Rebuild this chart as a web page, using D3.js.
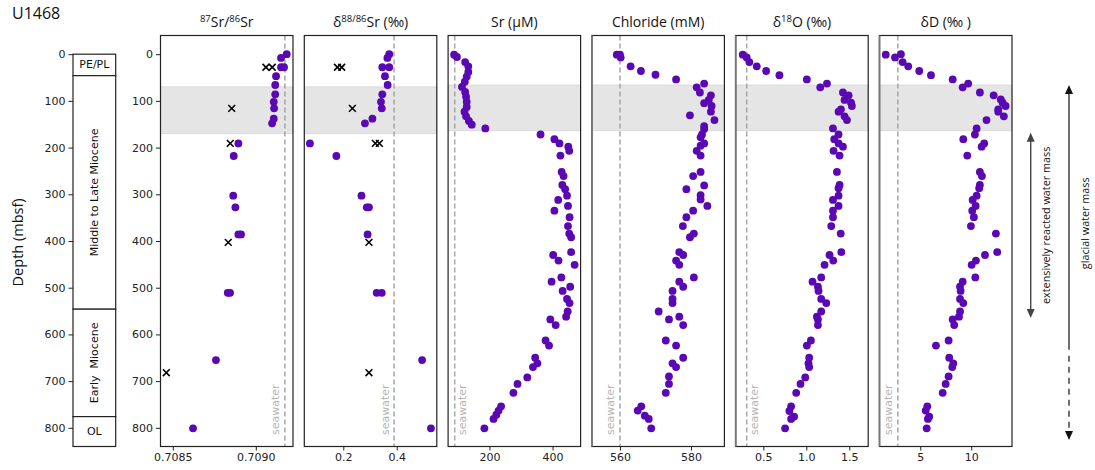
<!DOCTYPE html>
<html>
<head>
<meta charset="utf-8">
<script src="https://cdn.jsdelivr.net/npm/d3@7"></script>
<style>
  body { margin: 0; background: #fff; }
  text { font-family: "DejaVu Sans", sans-serif; }
</style>
</head>
<body>
<svg id="fig" width="1095" height="470"></svg>
<script>
// ---- Site U1468 pore-water profiles: [depth (mbsf), value] ----
const sr87Pore = [[0,0.709186],[8,0.709152],[28,0.709152],[28,0.709170],[47,0.709122],[66,0.709117],[86,0.709117],
  [102,0.709108],[116,0.709110],[138,0.709108],[148,0.709098],[191,0.708895],[218,0.708867],[303,0.708864],
  [328,0.708877],[386,0.708895],[386,0.708911],[511,0.708831],[511,0.708845],[655,0.708760],[801,0.708622]];
const sr87Solid = [[28,0.709061],[28,0.709099],[116,0.708855],[191,0.708846],[403,0.708834],[682,0.708461]];

const d88Pore = [[0,0.372],[8,0.365],[28,0.346],[28,0.372],[47,0.356],[66,0.366],[86,0.346],[102,0.341],
  [116,0.344],[138,0.309],[148,0.281],[191,0.075],[218,0.174],[303,0.268],[328,0.288],[328,0.296],
  [386,0.291],[511,0.325],[511,0.344],[655,0.495],[801,0.528]];
const d88Solid = [[28,0.178],[28,0.194],[116,0.234],[191,0.320],[191,0.335],[403,0.296],[682,0.296]];

const srConc = [[1,88],[6,97],[17,123],[26,133],[38,133],[48,128],[59,122],[70,113],[81,123],[91,126],
  [102,128],[113,128],[123,121],[133,126],[143,135],[151,144],[159,187],[172,362],[182,406],[191,422],
  [198,450],[207,453],[217,425],[252,429],[261,435],[280,431],[289,440],[303,446],[312,418],[325,449],
  [335,406],[349,454],[368,449],[384,453],[392,459],[424,459],[430,402],[442,419],[451,470],[478,428],
  [487,397],[498,456],[507,432],[524,446],[533,454],[551,448],[562,443],[568,393],[580,410],[613,378],
  [624,389],[650,345],[662,352],[670,338],[692,320],[706,289],[725,276],[754,237],[763,229],[772,222],
  [781,213],[801,184]];

const chloride = [[1,559.1],[1,560.0],[7,560.2],[26,563.0],[36,565.9],[44,570.0],[54,575.8],[63,583.7],
  [71,581.6],[82,582.5],[88,585.6],[98,585.0],[105,583.7],[111,585.8],[123,585.6],[131,579.7],[141,586.6],
  [154,583.7],[160,583.7],[172,583.1],[178,582.7],[191,583.7],[196,582.7],[207,581.6],[217,582.7],
  [252,582.7],[261,580.6],[281,583.7],[289,578.7],[302,582.7],[311,582.7],[325,584.6],[335,580.6],
  [349,578.7],[368,577.7],[384,580.8],[392,579.7],[424,576.7],[430,577.8],[442,575.8],[451,576.7],
  [478,580.8],[487,576.7],[498,577.8],[507,574.8],[524,574.8],[533,574.8],[551,570.9],[562,576.7],
  [568,573.8],[580,577.8],[613,572.9],[624,575.8],[650,577.8],[662,574.8],[670,575.8],[690,573.8],
  [706,573.8],[725,572.9],[754,566.0],[763,565.0],[774,567.0],[781,568.1],[801,568.8]];

const d18O = [[1,0.26],[7,0.306],[17,0.337],[26,0.423],[36,0.532],[45,0.687],[54,1.006],[63,1.24],
  [71,1.162],[82,1.426],[88,1.492],[98,1.445],[104,1.52],[111,1.53],[118,1.403],[123,1.375],[133,1.445],
  [141,1.473],[159,1.31],[172,1.375],[182,1.325],[191,1.375],[198,1.426],[207,1.317],[217,1.387],
  [252,1.356],[280,1.387],[287,1.375],[303,1.375],[312,1.31],[325,1.375],[335,1.31],[349,1.31],
  [368,1.29],[384,1.40],[424,1.407],[430,1.27],[442,1.313],[451,1.212],[478,1.173],[487,1.072],
  [498,1.135],[507,1.142],[524,1.173],[533,1.232],[551,1.173],[562,1.123],[568,1.135],[580,1.135],
  [613,1.053],[624,1.006],[650,1.033],[662,1.025],[670,1.033],[692,0.987],[706,0.932],[725,0.882],
  [754,0.823],[764,0.803],[776,0.858],[781,0.823],[801,0.753]];

const dD = [[1,1.61],[7,2.52],[0,3.1],[17,3.27],[26,3.82],[36,4.9],[45,6.05],[54,8.18],[71,9.16],
  [63,9.7],[82,10.85],[88,12.2],[97,12.9],[104,13.08],[111,13.37],[118,12.65],[123,12.65],[133,13.2],
  [141,11.5],[159,10.53],[172,10.36],[182,9.22],[191,11.27],[198,11.02],[217,9.61],[252,10.85],
  [261,11.05],[280,10.85],[287,10.78],[303,10.53],[312,10.14],[325,10.43],[335,10.1],[349,10.26],
  [368,9.97],[384,12.42],[424,12.55],[430,11.35],[442,10.46],[451,10.04],[478,10.4],[487,9.16],
  [498,8.9],[507,8.96],[524,8.9],[533,9.22],[551,8.9],[562,8.8],[568,8.18],[580,8.33],[613,7.78],
  [624,6.54],[650,7.84],[662,8.24],[670,8.14],[690,7.78],[706,7.49],[725,7.2],[754,5.69],[763,5.53],
  [776,5.88],[781,5.75],[801,5.63]];

// ---- Panel settings ----
const panelTitles = [
  [["87",1],["Sr/",0],["86",1],["Sr",0]],
  [["δ",0],["88/86",1],["Sr (‰)",0]],
  [["Sr (μM)",0]],
  [["Chloride (mM)",0]],
  [["δ",0],["18",1],["O (‰)",0]],
  [["δD (‰ )",0]]
];
const xDomains = [[0.708426,0.709224],[0.054,0.550],[69,489],[552.1,589.4],[0.178,1.72],[1.0,14.0]];
const xTicks = [[0.7085,0.7090],[0.2,0.4],[200,400],[560,580],[0.5,1.0,1.5],[5,10]];
const xFormats = [".4f",".1f","d","d",".1f","d"];
const seawater = [0.709175,0.39,90,560,0.306,2.8];
const seawaterLabelSide = ["left","left","right","left","right","left"];
const bandDepths = [[70,170],[70,170],[66,164],[66,164],[66,164],[66,164]];
const poreSeries = [sr87Pore, d88Pore, srConc, chloride, d18O, dD];
const solidSeries = [sr87Solid, d88Solid, null, null, null, null];

// Stratigraphic column
const stratUnits = ["PE/PL", "Middle to Late Miocene", "Early  Miocene", "OL"];
const stratTops = [0, 46, 546, 776];
const stratBases = [46, 546, 776, 840];
const depthTicks = [0,100,200,300,400,500,600,700,800];

// ---- Layout ----
const svg = d3.select("#fig");
const plotTop = 35.5, plotBottom = 446.5;
const y = d3.scaleLinear().domain([-40, 840]).range([plotTop, plotBottom]);
const panelLeft0 = 160.5, panelStep = 143.8, panelW = 132.5;
const purple = "#5a07b4";
const labelFont = "'Open Sans', sans-serif";

// title
svg.append("text").attr("x", 12).attr("y", 19)
  .style("font-family", labelFont).style("font-size", "16px").attr("fill", "#111")
  .text("U1468");

// depth axis label
svg.append("text")
  .attr("transform", `translate(23,${y(403)}) rotate(-90)`)
  .attr("text-anchor", "middle")
  .style("font-family", labelFont).style("font-size", "14.5px").attr("fill", "#111")
  .text("Depth (mbsf)");

// stratigraphic column
const colX0 = 73, colX1 = 115.7;
const strat = svg.append("g");
stratUnits.forEach((name, i) => {
  const y0 = y(stratTops[i]), y1 = y(stratBases[i]);
  strat.append("rect").attr("x", colX0).attr("y", y0).attr("width", colX1 - colX0).attr("height", y1 - y0)
    .attr("fill", "#fff").attr("stroke", "#222").attr("stroke-width", 1.2);
  const cx = (colX0 + colX1) / 2, cy = (y0 + y1) / 2;
  const t = strat.append("text").attr("text-anchor", "middle").attr("dominant-baseline", "central")
    .style("font-size", "11px").style("white-space", "pre").attr("fill", "#111").text(name);
  if (i === 0 || i === 3) t.attr("x", cx).attr("y", cy);
  else t.attr("transform", `translate(${cx},${cy}) rotate(-90)`);
});
const colAxis = svg.append("g").attr("transform", `translate(${colX0},0)`)
  .call(d3.axisLeft(y).tickValues(depthTicks).tickSize(4.5).tickPadding(3));
colAxis.select(".domain").remove();
colAxis.selectAll("text").style("font-size", "11px").style("font-family", "'DejaVu Sans', sans-serif").attr("fill", "#222");
colAxis.selectAll("line").attr("stroke", "#222");

// ---- Panels ----
poreSeries.forEach((pts, i) => {
  const x0 = panelLeft0 + i * panelStep, x1 = x0 + panelW;
  const x = d3.scaleLinear().domain(xDomains[i]).range([x0, x1]);
  const g = svg.append("g");

  // Title
  const tt = g.append("text").attr("x", (x0 + x1) / 2).attr("y", 27).attr("text-anchor", "middle")
    .style("font-family", labelFont).style("font-size", "14px").attr("fill", "#111");
  let raised = false;
  panelTitles[i].forEach(([s, sup]) => {
    const sp = tt.append("tspan").text(s);
    if (sup && !raised) { sp.attr("dy", -5).style("font-size", "9.5px"); raised = true; }
    else if (!sup && raised) { sp.attr("dy", 5); raised = false; }
  });

  // grey band
  g.append("rect").attr("x", x0).attr("width", panelW)
    .attr("y", y(bandDepths[i][0])).attr("height", y(bandDepths[i][1]) - y(bandDepths[i][0]))
    .attr("fill", "#e5e5e5").attr("stroke", "#d6d6d6").attr("stroke-width", 0.8);

  // seawater reference
  const sx = x(seawater[i]);
  g.append("line").attr("x1", sx).attr("x2", sx).attr("y1", plotTop).attr("y2", plotBottom)
    .attr("stroke", "#a6a6a6").attr("stroke-width", 1.5).attr("stroke-dasharray", "5,3");
  const lx = seawaterLabelSide[i] === "left" ? sx - 5.5 : sx + 11.5;
  g.append("text").attr("transform", `translate(${lx},435) rotate(-90)`)
    .style("font-size", "11px").attr("fill", "#b4b4b4").text("seawater");

  // pore-water points
  g.selectAll("circle.pw").data(pts).join("circle").attr("class", "pw")
    .attr("cx", d => x(d[1])).attr("cy", d => y(d[0])).attr("r", 3.9).attr("fill", purple);

  // sediment (solid phase) measurements
  if (solidSeries[i]) {
    const s = 3.4;
    g.selectAll("path.sd").data(solidSeries[i]).join("path").attr("class", "sd")
      .attr("d", d => {
        const cx = x(d[1]), cy = y(d[0]);
        return `M${cx - s},${cy - s}L${cx + s},${cy + s}M${cx - s},${cy + s}L${cx + s},${cy - s}`;
      })
      .attr("stroke", "#000").attr("stroke-width", 1.6).attr("fill", "none");
  }

  // frame
  g.append("rect").attr("x", x0).attr("y", plotTop).attr("width", panelW).attr("height", plotBottom - plotTop)
    .attr("fill", "none").attr("stroke", "#222").attr("stroke-width", 1.2);
  if (i >= 3) {
    g.append("line").attr("x1", x0).attr("x2", x0).attr("y1", plotTop).attr("y2", plotBottom)
      .attr("stroke", "#777").attr("stroke-width", 1.8);
  }

  // x axis
  const xa = g.append("g").attr("transform", `translate(0,${plotBottom})`)
    .call(d3.axisBottom(x).tickValues(xTicks[i]).tickFormat(d3.format(xFormats[i])).tickSize(4).tickPadding(3));
  xa.select(".domain").remove();
  xa.selectAll("text").style("font-size", "11px").style("font-family", "'DejaVu Sans', sans-serif").attr("fill", "#222");
  xa.selectAll("line").attr("stroke", "#222");

  // y axis only on the first panel
  if (i === 0) {
    const ya = g.append("g").attr("transform", `translate(${x0},0)`)
      .call(d3.axisLeft(y).tickValues(depthTicks).tickSize(4.5).tickPadding(3));
    ya.select(".domain").remove();
    ya.selectAll("text").style("font-size", "11px").style("font-family", "'DejaVu Sans', sans-serif").attr("fill", "#222");
    ya.selectAll("line").attr("stroke", "#222");
  }
});

// ---- Water-mass annotations ----
function arrowHead(g, xc, yTip, dir, color) {
  const w = 4, h = 9;
  g.append("path").attr("d", `M${xc},${yTip}L${xc - w},${yTip - dir * h}L${xc + w},${yTip - dir * h}Z`).attr("fill", color);
}
const ann = svg.append("g");
// extensively reacted water mass
{
  const xc = 1030.7, ya = y(168), yb = y(565), col = "#444";
  ann.append("line").attr("x1", xc).attr("x2", xc).attr("y1", ya + 4).attr("y2", yb - 4).attr("stroke", col).attr("stroke-width", 1.4);
  arrowHead(ann, xc, ya, -1, col);
  arrowHead(ann, xc, yb, 1, col);
  ann.append("text").attr("transform", `translate(1050,${(ya + yb) / 2}) rotate(-90)`).attr("text-anchor", "middle")
    .style("font-family", labelFont).style("font-size", "10.8px").attr("fill", "#111")
    .text("extensively reacted water mass");
}
// glacial water mass
{
  const xc = 1069, ya = y(66), ym = y(633), yb = y(826), col = "#111";
  ann.append("line").attr("x1", xc).attr("x2", xc).attr("y1", ya + 4).attr("y2", ym).attr("stroke", col).attr("stroke-width", 1.2);
  ann.append("line").attr("x1", xc).attr("x2", xc).attr("y1", ym + 6).attr("y2", yb - 4).attr("stroke", col).attr("stroke-width", 1.2)
    .attr("stroke-dasharray", "6,5");
  arrowHead(ann, xc, ya, -1, col);
  arrowHead(ann, xc, yb, 1, col);
  ann.append("text").attr("transform", `translate(1089,${y(362)}) rotate(-90)`).attr("text-anchor", "middle")
    .style("font-family", labelFont).style("font-size", "10.8px").attr("fill", "#111")
    .text("glacial water mass");
}
</script>
</body>
</html>
